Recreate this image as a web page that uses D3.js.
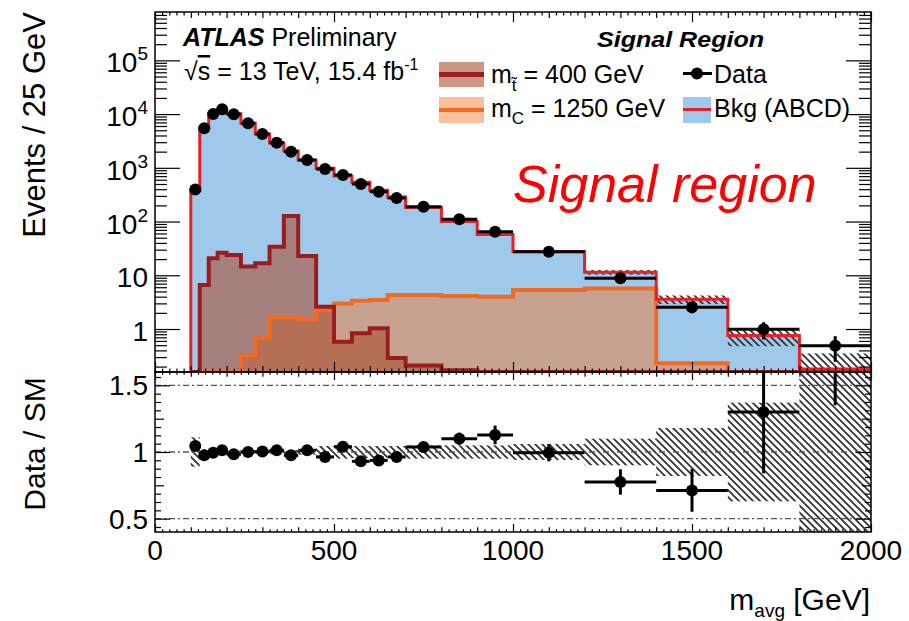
<!DOCTYPE html>
<html>
<head>
<meta charset="utf-8">
<script src="https://cdn.jsdelivr.net/npm/d3@7"></script>
<style>
  body { margin: 0; background: #fff; }
  text { font-family: "Liberation Sans", Arial, sans-serif; fill: #000; }
</style>
</head>
<body>
<svg id="chart" width="909" height="621"></svg>
<script>
// Bin edges in m_avg (GeV)
const binEdges = [100, 125, 150, 175, 200, 240, 280, 320, 360, 400, 450, 500, 550, 600, 650, 700, 800, 900, 1000, 1200, 1400, 1600, 1800, 2000];

// Events / 25 GeV
const dataVals = [395, 5450, 10050, 12300, 9930, 6750, 4270, 2940, 2000, 1400, 950, 736, 500, 360, 275, 189, 110, 64.7, 27.5, 8.8, 2.54, 0.99, 0.49];
const bkgVals  = [378, 5590, 10100, 12140, 10100, 6750, 4257, 2900, 2050, 1382, 986, 708, 538, 384, 286, 182, 100, 57.4, 27.6, 11.4, 3.57, 0.76, 0.18];
const stopVals = [0, 6.6, 20.7, 26.3, 23.9, 14.5, 16.7, 34, 127, 22.9, 2.6, 0.58, 0.83, 1.03, 0.29, 0.21, 0.17, 0, 0, 0, 0, 0, 0];
const charmVals = [0, 0, 0, 0, 0, 0.33, 0.67, 1.69, 1.69, 1.52, 2.26, 3.0, 3.37, 3.47, 4.3, 4.3, 4.1, 4.0, 5.3, 5.7, 0.23, 0, 0];

// Data / SM
const ratioVals = [1.045, 0.975, 0.995, 1.013, 0.983, 1.0, 1.003, 1.013, 0.975, 1.013, 0.963, 1.04, 0.93, 0.937, 0.963, 1.038, 1.10, 1.128, 0.995, 0.775, 0.712, 1.30, 2.7];
const ratioErr  = [0.02, 0.015, 0.012, 0.012, 0.012, 0.012, 0.012, 0.015, 0.015, 0.018, 0.02, 0.025, 0.028, 0.03, 0.035, 0.035, 0.045, 0.07, 0.065, 0.095, 0.16, 0.46, 1.35];
const bkgUnc    = [0.11, 0.02, 0.012, 0.012, 0.012, 0.012, 0.015, 0.015, 0.015, 0.02, 0.045, 0.05, 0.045, 0.045, 0.045, 0.05, 0.05, 0.05, 0.06, 0.1, 0.18, 0.37, 0.95];

// tick labels
const xTickLabels = [0, 500, 1000, 1500, 2000];
const yTickLabels = [1, 10, 1e2, 1e3, 1e4, 1e5];
const rTickLabels = [0.5, 1, 1.5];

// Layout
const L = 155, R = 871, T = 12, M = 372, B = 532;

const svg = d3.select("#chart");

let x = d3.scaleLinear().domain([0, 2000]).range([L, R]);
let y = d3.scaleLog().domain([Math.pow(10, -0.8), Math.pow(10, 5.9)]).range([M, T]).clamp(true);
let yr = d3.scaleLinear().domain([0.4, 1.6]).range([B, M]);
const yMin = y.domain()[0];

// colours
const bkgFill = "#9ec9ea", bkgLine = "#e8202a";
const stopLine = "#9b1c1f", stopFill = "rgba(170,76,44,0.58)";
const charmLine = "#f26a22", charmFill = "rgba(247,120,42,0.47)";

// defs: clips + hatch
const defs = svg.append("defs");
defs.append("clipPath").attr("id", "clipTop")
  .append("rect").attr("x", L).attr("y", T).attr("width", R - L).attr("height", M - T);
defs.append("clipPath").attr("id", "clipRatio")
  .append("rect").attr("x", L).attr("y", M).attr("width", R - L).attr("height", B - M);
const pat = defs.append("pattern").attr("id", "hatch")
  .attr("patternUnits", "userSpaceOnUse").attr("width", 7).attr("height", 7);
pat.append("path").attr("d", "M-1,-1 L8,8 M-1,6 L1,8 M6,-1 L8,1")
  .attr("stroke", "#333").attr("stroke-width", 1.8);

// histogram points for step curves
function stepPoints(vals) {
  let pts = [[binEdges[0], yMin]];
  vals.forEach((v, i) => pts.push([binEdges[i], v]));
  pts.push([binEdges[binEdges.length - 1], vals[vals.length - 1]]);
  return pts;
}
let stepLine = d3.line().curve(d3.curveStepAfter)
  .x(d => x(d[0])).y(d => y(Math.max(d[1], yMin)));
let stepArea = d3.area().curve(d3.curveStepAfter)
  .x(d => x(d[0])).y0(M).y1(d => y(Math.max(d[1], yMin)));

// ---------- top panel ----------
let topG = svg.append("g").attr("clip-path", "url(#clipTop)");

topG.append("path").attr("d", stepArea(stepPoints(bkgVals))).attr("fill", bkgFill);

// bkg uncertainty band
topG.selectAll("rect.unc").data(bkgVals).enter().append("rect")
  .attr("x", (d, i) => x(binEdges[i]))
  .attr("width", (d, i) => x(binEdges[i + 1]) - x(binEdges[i]))
  .attr("y", (d, i) => y(d * (1 + bkgUnc[i])))
  .attr("height", (d, i) => y(Math.max(d * (1 - bkgUnc[i]), yMin)) - y(d * (1 + bkgUnc[i])))
  .attr("fill", "url(#hatch)");

topG.append("path").attr("d", stepArea(stepPoints(charmVals))).attr("fill", charmFill);
topG.append("path").attr("d", stepArea(stepPoints(stopVals))).attr("fill", stopFill);
topG.append("path").attr("d", stepLine(stepPoints(charmVals)))
  .attr("fill", "none").attr("stroke", charmLine).attr("stroke-width", 4);
topG.append("path").attr("d", stepLine(stepPoints(stopVals)))
  .attr("fill", "none").attr("stroke", stopLine).attr("stroke-width", 4);
topG.append("path").attr("d", stepLine(stepPoints(bkgVals)))
  .attr("fill", "none").attr("stroke", bkgLine).attr("stroke-width", 3);

// data
const mids = binEdges.slice(0, -1).map((e, i) => (e + binEdges[i + 1]) / 2);
let pts = topG.selectAll("g.pt").data(dataVals).enter().append("g");
pts.append("line")
  .attr("x1", (d, i) => x(binEdges[i])).attr("x2", (d, i) => x(binEdges[i + 1]))
  .attr("y1", d => y(d)).attr("y2", d => y(d))
  .attr("stroke", "#000").attr("stroke-width", 3);
pts.append("line")
  .attr("x1", (d, i) => x(mids[i])).attr("x2", (d, i) => x(mids[i]))
  .attr("y1", (d, i) => y(d * (1 + ratioErr[i] / ratioVals[i])))
  .attr("y2", (d, i) => y(Math.max(d * (1 - ratioErr[i] / ratioVals[i]), yMin)))
  .attr("stroke", "#000").attr("stroke-width", 3);
pts.append("circle")
  .attr("cx", (d, i) => x(mids[i])).attr("cy", d => y(d)).attr("r", 6).attr("fill", "#000");

// ---------- ratio panel ----------
let rat = svg.append("g").attr("clip-path", "url(#clipRatio)");

rat.selectAll("rect.unc").data(bkgUnc).enter().append("rect")
  .attr("x", (d, i) => x(binEdges[i]))
  .attr("width", (d, i) => x(binEdges[i + 1]) - x(binEdges[i]))
  .attr("y", d => yr(1 + d))
  .attr("height", d => yr(1 - d) - yr(1 + d))
  .attr("fill", "url(#hatch)");

rat.selectAll("line.ref").data(rTickLabels).enter().append("line")
  .attr("x1", L).attr("x2", R).attr("y1", d => yr(d)).attr("y2", d => yr(d))
  .attr("stroke", "#555").attr("stroke-width", 1.4).attr("stroke-dasharray", "6,3,2,3");

let rpts = rat.selectAll("g.rpt").data(ratioVals).enter().append("g");
rpts.append("line")
  .attr("x1", (d, i) => x(binEdges[i])).attr("x2", (d, i) => x(binEdges[i + 1]))
  .attr("y1", d => yr(d)).attr("y2", d => yr(d))
  .attr("stroke", "#000").attr("stroke-width", 3);
rpts.append("line")
  .attr("x1", (d, i) => x(mids[i])).attr("x2", (d, i) => x(mids[i]))
  .attr("y1", (d, i) => yr(d + ratioErr[i])).attr("y2", (d, i) => yr(d - ratioErr[i]))
  .attr("stroke", "#000").attr("stroke-width", 3);
rpts.append("circle")
  .attr("cx", (d, i) => x(mids[i])).attr("cy", d => yr(d)).attr("r", 6).attr("fill", "#000");

// ---------- axes / ticks ----------
function tickSet(axisFn, scale, values, size, tx, ty) {
  let g = svg.append("g").attr("transform", `translate(${tx},${ty})`)
    .call(axisFn(scale).tickValues(values).tickSize(size).tickFormat(""));
  g.select(".domain").remove();
  g.selectAll("line").attr("stroke", "#000").attr("stroke-width", 1.2);
}

let logMajor = [], logMinor = [];
for (let k = -1; k <= 5; k++) {
  if (k >= 0) logMajor.push(Math.pow(10, k));
  for (let m = 2; m <= 9; m++) {
    let v = m * Math.pow(10, k);
    if (v >= yMin && v <= y.domain()[1]) logMinor.push(v);
  }
}
tickSet(d3.axisLeft, y, logMajor, -25, L, 0);
tickSet(d3.axisLeft, y, logMinor, -12, L, 0);
tickSet(d3.axisRight, y, logMajor, -25, R, 0);
tickSet(d3.axisRight, y, logMinor, -12, R, 0);

const xMajor = d3.range(0, 2001, 500);
const xMed = d3.range(0, 2001, 100).filter(v => v % 500 !== 0);
const xMin = d3.range(0, 2001, 20).filter(v => v % 100 !== 0);
[[d3.axisBottom, M], [d3.axisTop, T], [d3.axisBottom, B], [d3.axisTop, M]].forEach(([fn, yy], j) => {
  let s = (j === 2 || j === 3) ? 0.8 : 1;
  tickSet(fn, x, xMajor, -10 * s, 0, yy);
  tickSet(fn, x, xMed, -6 * s, 0, yy);
  tickSet(fn, x, xMin, -3.5 * s, 0, yy);
});

const rMajor = [0.5, 1, 1.5];
const rMed = [0.75, 1.25];
const rMin = d3.range(0.4375, 1.6, 0.0625).filter(v => !rMajor.concat(rMed).some(m => Math.abs(m - v) < 1e-6));
tickSet(d3.axisLeft, yr, rMajor, -15, L, 0);
tickSet(d3.axisLeft, yr, rMed, -9, L, 0);
tickSet(d3.axisLeft, yr, rMin, -6, L, 0);
tickSet(d3.axisRight, yr, rMajor, -15, R, 0);
tickSet(d3.axisRight, yr, rMed, -9, R, 0);
tickSet(d3.axisRight, yr, rMin, -6, R, 0);

// frames
svg.append("rect").attr("x", L).attr("y", T).attr("width", R - L).attr("height", M - T)
  .attr("fill", "none").attr("stroke", "#000").attr("stroke-width", 1.5);
svg.append("rect").attr("x", L).attr("y", M).attr("width", R - L).attr("height", B - M)
  .attr("fill", "none").attr("stroke", "#000").attr("stroke-width", 1.5);

// tick labels
let yl = svg.selectAll("text.ylab").data(yTickLabels).enter().append("text")
  .attr("x", 148).attr("y", d => y(d) + 12).attr("text-anchor", "end").attr("font-size", 28);
yl.each(function (d) {
  let t = d3.select(this);
  if (d < 100) { t.text(d3.format("d")(d)); return; }
  t.append("tspan").text("10");
  t.append("tspan").attr("dy", -12).attr("font-size", 19).text(Math.round(Math.log10(d)));
});

svg.selectAll("text.rlab").data(rTickLabels).enter().append("text")
  .attr("x", 148).attr("y", d => yr(d) + 10).attr("text-anchor", "end").attr("font-size", 28)
  .text(d => d);

svg.selectAll("text.xlab").data(xTickLabels).enter().append("text")
  .attr("x", d => x(d)).attr("y", 560).attr("text-anchor", "middle").attr("font-size", 28)
  .text(d => d);

// axis titles
svg.append("text").attr("transform", "translate(45,12) rotate(-90)")
  .attr("text-anchor", "end").attr("font-size", 31).text("Events / 25 GeV");
svg.append("text").attr("transform", "translate(45,444) rotate(-90)")
  .attr("text-anchor", "middle").attr("font-size", 30).text("Data / SM");
let xt = svg.append("text").attr("x", 870).attr("y", 610).attr("text-anchor", "end").attr("font-size", 30);
xt.append("tspan").text("m");
xt.append("tspan").attr("dy", 7).attr("font-size", 19).text("avg");
xt.append("tspan").attr("dy", -7).text(" [GeV]");

// ATLAS labels
let at = svg.append("text").attr("x", 183).attr("y", 46).attr("font-size", 25);
at.append("tspan").attr("font-weight", "bold").attr("font-style", "italic").text("ATLAS");
at.append("tspan").text(" Preliminary");
let en = svg.append("text").attr("x", 184).attr("y", 80).attr("font-size", 25);
en.append("tspan").text("√");
en.append("tspan").attr("text-decoration", "overline").text("s");
en.append("tspan").text(" = 13 TeV, 15.4 fb");
en.append("tspan").attr("dy", -10).attr("font-size", 16).text("-1");

svg.append("text").attr("x", 597).attr("y", 47).attr("font-size", 22)
  .attr("font-weight", "bold").attr("font-style", "italic")
  .attr("textLength", 167).attr("lengthAdjust", "spacingAndGlyphs").text("Signal Region");

svg.append("text").attr("x", 513).attr("y", 202).attr("font-size", 52)
  .attr("font-style", "italic").style("fill", "#ff0000").text("Signal region");

// legend
const leg = svg.append("g");
leg.append("rect").attr("x", 439).attr("y", 62).attr("width", 45).attr("height", 25).attr("fill", stopFill);
leg.append("line").attr("x1", 439).attr("x2", 484).attr("y1", 74.5).attr("y2", 74.5)
  .attr("stroke", stopLine).attr("stroke-width", 5);
leg.append("rect").attr("x", 439).attr("y", 97).attr("width", 45).attr("height", 26).attr("fill", charmFill);
leg.append("line").attr("x1", 439).attr("x2", 484).attr("y1", 110).attr("y2", 110)
  .attr("stroke", charmLine).attr("stroke-width", 4);
let l1 = leg.append("text").attr("x", 491).attr("y", 83).attr("font-size", 25);
l1.append("tspan").text("m");
l1.append("tspan").attr("dy", 8).attr("font-size", 17).text("t\u0303");
l1.append("tspan").attr("dy", -8).text(" = 400 GeV");
let l2 = leg.append("text").attr("x", 491).attr("y", 117).attr("font-size", 25);
l2.append("tspan").text("m");
l2.append("tspan").attr("dy", 7).attr("font-size", 17).text("C");
l2.append("tspan").attr("dy", -7).text(" = 1250 GeV");

leg.append("line").attr("x1", 683).attr("x2", 712).attr("y1", 73.5).attr("y2", 73.5)
  .attr("stroke", "#000").attr("stroke-width", 3);
leg.append("circle").attr("cx", 697).attr("cy", 73.5).attr("r", 6).attr("fill", "#000");
leg.append("text").attr("x", 714).attr("y", 83).attr("font-size", 25).text("Data");
leg.append("rect").attr("x", 683).attr("y", 97).attr("width", 28).attr("height", 26).attr("fill", bkgFill);
leg.append("line").attr("x1", 683).attr("x2", 711).attr("y1", 109.5).attr("y2", 109.5)
  .attr("stroke", bkgLine).attr("stroke-width", 3);
leg.append("text").attr("x", 714).attr("y", 117).attr("font-size", 25).text("Bkg (ABCD)");
</script>
</body>
</html>
